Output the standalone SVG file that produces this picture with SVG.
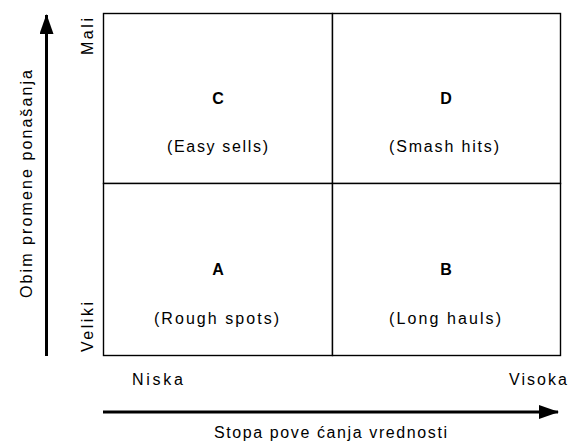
<svg xmlns="http://www.w3.org/2000/svg" width="570" height="442" viewBox="0 0 570 442">
<style>
  text { font-family: "Liberation Sans", Arial, sans-serif; font-size: 16px; fill: #000; }
  .letter { font-weight: bold; text-anchor: middle; font-size: 16px; }
  .cell { fill: #fff; stroke: #000; stroke-width: 1.4; }
  .axis { stroke: #000; stroke-width: 3; fill: none; }
</style>
<defs>
  <marker id="arrow" viewBox="0 0 20 14" refX="19" refY="7" markerWidth="20" markerHeight="14" markerUnits="userSpaceOnUse" orient="auto">
    <path d="M0,0 L20,7 L0,14 Z" fill="#000"/>
  </marker>
</defs>
<rect width="570" height="442" fill="#fff"/>
<g id="connectors">
  <line class="axis" x1="46.5" y1="356" x2="46.5" y2="15" marker-end="url(#arrow)"/>
  <line class="axis" x1="103" y1="412" x2="558" y2="412" marker-end="url(#arrow)"/>
</g>
<g id="cellC">
  <rect class="cell" x="103.5" y="13.5" width="229" height="170"/>
  <text class="letter" x="218" y="104">C</text>
  <text x="167" y="152" textLength="101" lengthAdjust="spacing">(Easy sells)</text>
</g>
<g id="cellD">
  <rect class="cell" x="332.5" y="13.5" width="228" height="170"/>
  <text class="letter" x="446" y="104">D</text>
  <text x="389" y="152" textLength="110" lengthAdjust="spacing">(Smash hits)</text>
</g>
<g id="cellA">
  <rect class="cell" x="103.5" y="183.5" width="229" height="172"/>
  <text class="letter" x="218" y="275">A</text>
  <text x="154" y="324" textLength="125" lengthAdjust="spacing">(Rough spots)</text>
</g>
<g id="cellB">
  <rect class="cell" x="332.5" y="183.5" width="228" height="172"/>
  <text class="letter" x="446" y="275">B</text>
  <text x="389" y="324" textLength="112" lengthAdjust="spacing">(Long hauls)</text>
</g>
<g id="labels">
  <text x="132" y="385" textLength="51" lengthAdjust="spacing">Niska</text>
  <text x="509" y="385" textLength="58" lengthAdjust="spacing">Visoka</text>
  <text x="214" y="438" textLength="233" lengthAdjust="spacing">Stopa pove ćanja vrednosti</text>
  <text transform="translate(93,55) rotate(-90)" textLength="37" lengthAdjust="spacing">Mali</text>
  <text transform="translate(93,352) rotate(-90)" textLength="50" lengthAdjust="spacing">Veliki</text>
  <text transform="translate(32,298) rotate(-90)" textLength="228" lengthAdjust="spacing">Obim promene ponašanja</text>
</g>
</svg>
